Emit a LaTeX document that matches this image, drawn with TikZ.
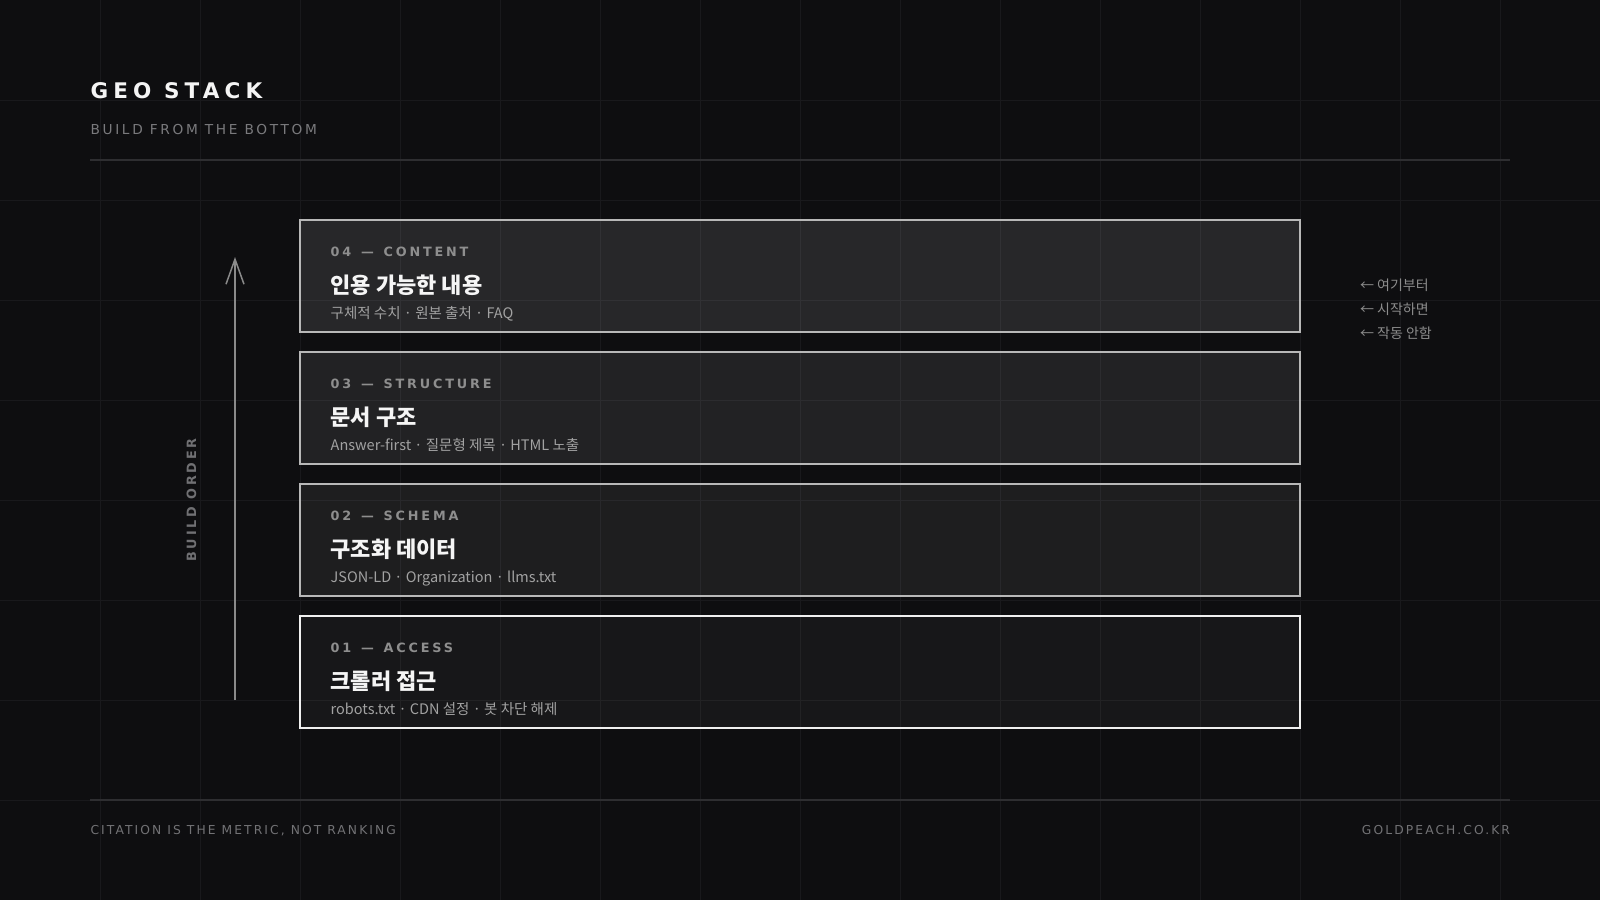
\documentclass[tikz,border=0pt]{standalone}
\usepackage{fontspec}
\usetikzlibrary{arrows.meta}
\newfontfamily\titlefont[LetterSpace=24]{DejaVu Sans}
\newfontfamily\subfont[LetterSpace=19.5]{DejaVu Sans}
\newfontfamily\labfont[LetterSpace=22]{DejaVu Sans}
\newfontfamily\footfont[LetterSpace=17]{DejaVu Sans}
\newfontfamily\kr{Noto Sans CJK KR}
\definecolor{bg}{HTML}{0E0E10}
\definecolor{gridc}{HTML}{19191C}
\definecolor{rulec}{HTML}{2E2E31}
\definecolor{titlec}{HTML}{F4F4F4}
\definecolor{subc}{HTML}{7A7A7D}
\definecolor{labc}{HTML}{8E8E8E}
\definecolor{ktitc}{HTML}{F5F5F5}
\definecolor{ksubc}{HTML}{A2A2A2}
\definecolor{bordc}{HTML}{B8B8B8}
\definecolor{arrc}{HTML}{8A8A8A}
\definecolor{ordc}{HTML}{707073}
\definecolor{notec}{HTML}{8C8C8C}
\definecolor{footc}{HTML}{727275}
\newcommand{\ldash}{\ \hspace{2.5pt}—\ \hspace{2.5pt}}
\tikzset{
  txt/.style={inner sep=0pt, outer sep=0pt, anchor=base west},
  labeltxt/.style={txt, text=labc, font=\labfont\bfseries\fontsize{12.8}{14}\selectfont},
  ktitle/.style={txt, text=ktitc, font=\kr\bfseries\fontsize{22}{26}\selectfont},
  ksub/.style={txt, text=ksubc, font=\kr\fontsize{14.5}{17}\selectfont},
  notetxt/.style={txt, text=notec, font=\kr\fontsize{14}{17}\selectfont},
  foottxt/.style={txt, text=footc, font=\footfont\fontsize{12.3}{14}\selectfont},
  layerbox/.style={draw=bordc, line width=1.5pt, fill=white},
}
\begin{document}
\begin{tikzpicture}[x=1pt,y=-1pt]
\useasboundingbox (0,0) rectangle (1600,900);
\fill[bg] (0,0) rectangle (1600,900);
% grid
\foreach \gx in {100,200,...,1500} \draw[gridc, line width=1pt] (\gx,0) -- (\gx,900);
\foreach \gy in {100,200,...,800} \draw[gridc, line width=1pt] (0,\gy) -- (1600,\gy);
% header
\node[txt, text=titlec, font=\titlefont\bfseries\fontsize{21.5}{24}\selectfont] (title) at (90.5,98.3) {GEO STACK};
\node[txt, text=subc, font=\subfont\fontsize{13.7}{16}\selectfont] (subtitle) at (90.5,134) {BUILD FROM THE BOTTOM};
\draw[rulec, line width=1.5pt] (90,160) coordinate (r1a) -- (1510,160) coordinate (r1b);
% boxes
\path[layerbox, fill opacity=0.105] (300,220) rectangle (1300,332);
\path[layerbox, fill opacity=0.085] (300,352) rectangle (1300,464);
\path[layerbox, fill opacity=0.065] (300,484) rectangle (1300,596);
\path[layerbox, draw=white!94!black, line width=2pt, fill opacity=0.04] (300,616) rectangle (1300,728);
\node[coordinate] (b4) at (300,220) {};
\node[coordinate] (b3) at (300,352) {};
\node[coordinate] (b2) at (300,484) {};
\node[coordinate] (b1) at (300,616) {};
% box texts
\node[labeltxt] (l4) at ([shift={(30.7,36)}]b4) {04\ldash CONTENT};
\node[ktitle] (t4) at ([shift={(30.7,73)}]b4) {인용 가능한 내용};
\node[ksub] (s4) at ([shift={(30.7,98)}]b4) {구체적 수치 · 원본 출처 · FAQ};
\node[labeltxt] (l3) at ([shift={(30.7,36)}]b3) {03\ldash STRUCTURE};
\node[ktitle] (t3) at ([shift={(30.7,73)}]b3) {문서 구조};
\node[ksub] (s3) at ([shift={(30.7,98)}]b3) {Answer-first · 질문형 제목 · HTML 노출};
\node[labeltxt] (l2) at ([shift={(30.7,36)}]b2) {02\ldash SCHEMA};
\node[ktitle] (t2) at ([shift={(30.7,73)}]b2) {구조화 데이터};
\node[ksub] (s2) at ([shift={(30.7,98)}]b2) {JSON-LD · Organization · llms.txt};
\node[labeltxt] (l1) at ([shift={(30.7,36)}]b1) {01\ldash ACCESS};
\node[ktitle] (t1) at ([shift={(30.7,73)}]b1) {크롤러 접근};
\node[ksub] (s1) at ([shift={(30.7,98)}]b1) {robots.txt · CDN 설정 · 봇 차단 해제};
% build order arrow
\coordinate (arrS) at (235,700);
\coordinate (arrE) at (235,257);
\draw[arrc, line width=1.5pt, -{Straight Barb[length=25pt, width=18pt, line width=1.5pt]}] (arrS) -- (arrE);
\node[inner sep=0pt, rotate=90, text=ordc, font=\labfont\bfseries\fontsize{12.8}{14}\selectfont] (order) at (191.5,500) {BUILD ORDER};
% notes
\node[notetxt] (n1) at (1360,290) {← 여기부터};
\node[notetxt] (n2) at (1360,314) {← 시작하면};
\node[notetxt] (n3) at (1360,338) {← 작동 안함};
% footer
\draw[rulec, line width=1.5pt] (90,800) coordinate (r2a) -- (1510,800) coordinate (r2b);
\node[foottxt] (f1) at (90.5,834) {CITATION IS THE METRIC, NOT RANKING};
\node[foottxt, anchor=base east] (f2) at (1510,834) {GOLDPEACH.CO.KR};
\end{tikzpicture}
\end{document}
